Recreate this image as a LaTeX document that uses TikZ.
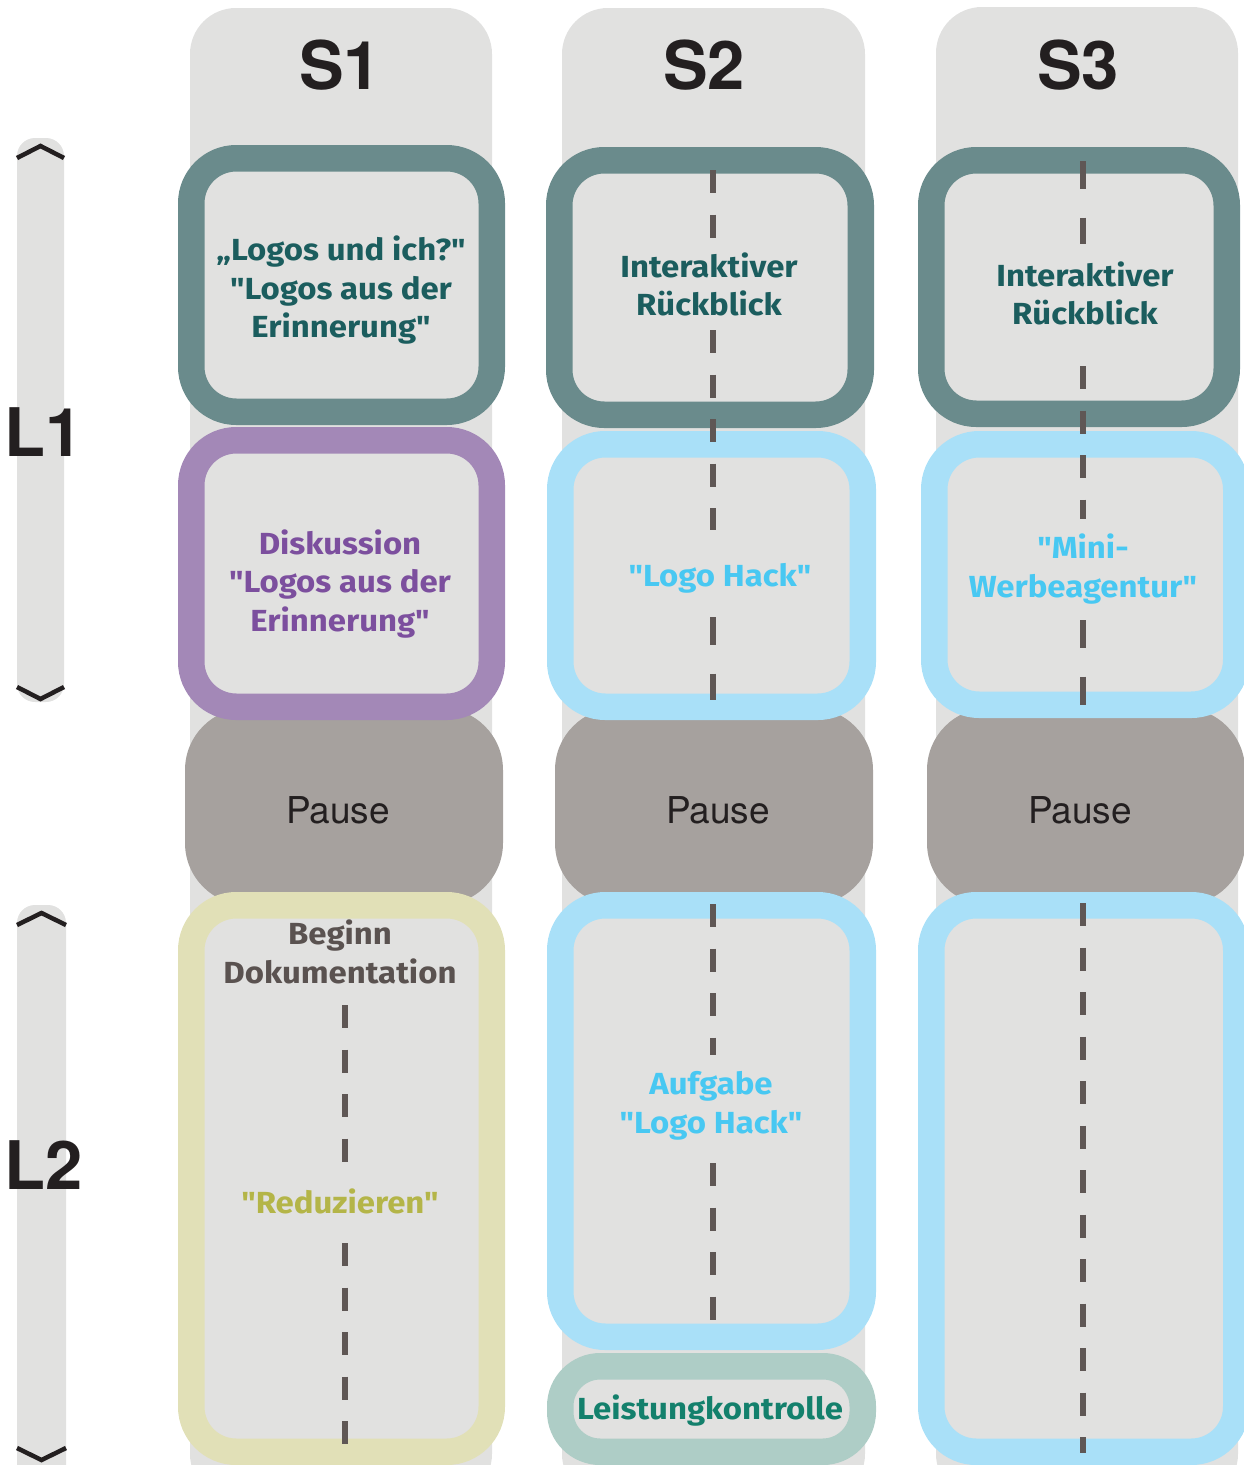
\documentclass[tikz,border=0pt]{standalone}
\usepackage{fontspec}
\setmainfont{TeX Gyre Heros}
\newfontfamily\boxfont{Fira Sans}[FakeStretch=1.08]

\definecolor{colbg}{HTML}{E1E1E0}
\definecolor{headtext}{HTML}{231F20}
\definecolor{pausegray}{HTML}{A6A19E}
\definecolor{dashgray}{HTML}{5F5755}
\definecolor{tealring}{HTML}{6A8B8C}
\definecolor{tealtext}{HTML}{1B5D5E}
\definecolor{purplering}{HTML}{A388B7}
\definecolor{purpletext}{HTML}{7C4F9E}
\definecolor{bluering}{HTML}{A9E0F8}
\definecolor{bluetext}{HTML}{48C8F2}
\definecolor{yellowring}{HTML}{E1E0B7}
\definecolor{olivetext}{HTML}{B4B548}
\definecolor{doctext}{HTML}{5A5250}
\definecolor{mintring}{HTML}{AECDC6}
\definecolor{minttext}{HTML}{13806C}

\begin{document}
\begin{tikzpicture}[
  x=1pt, y=-1pt,
  column/.style={fill=colbg, rounded corners=46pt},
  levelbar/.style={fill=colbg, rounded corners=18pt},
  caret/.style={draw=headtext, line width=4.5pt},
  ring/.style={draw=#1, fill=colbg, line width=26.5pt, rounded corners=45pt, inner sep=0pt},
  pausebox/.style={fill=pausegray, rounded corners=62pt, minimum width=318pt, minimum height=197pt},
  pausetext/.style={text=headtext, font=\fontsize{37}{44}\selectfont},
  head/.style={text=headtext, font=\bfseries\fontsize{67}{80}\selectfont},
  boxtext/.style={text=#1, align=center, inner sep=0pt, font=\boxfont\bfseries\fontsize{30.5}{38.5}\selectfont},
  dashline/.style={draw=dashgray, line width=5.5pt, dash pattern=on 23pt off 21.5pt},
  longdash/.style={draw=dashgray, line width=5.5pt, dash pattern=on 28pt off 28.5pt}
]
\useasboundingbox (0,0) rectangle (1243,1465);

% columns
\fill[column] (190,1500) rectangle (492,8);
\fill[column] (562,1500) rectangle (865,8);
\fill[column] (936,1500) rectangle (1238,7);
\node[head] (h1) at (340,65) {S1};
\node[head] (h2) at (704,65) {S2};
\node[head] (h3) at (1078,65) {S3};

% levels
\fill[levelbar] (17,138) rectangle (64,702);
\draw[caret] (17,158) -- (40.5,146) -- (64,158);
\draw[caret] (17,687) -- (40.5,699) -- (64,687);
\node[head] (l1) at (44,432) {L1};
\fill[levelbar] (17,905) rectangle (66,1500);
\draw[caret] (17,925) -- (41.5,913) -- (66,925);
\draw[caret] (17,1448) -- (41.5,1460) -- (66,1448);
\node[head] (l2) at (44,1165) {L2};

% pauses
\node[pausebox] (p1) at (344,806.5) {};
\node[pausebox] (p2) at (714,806.5) {};
\node[pausebox] (p3) at (1086,806.5) {};
\node[pausetext] (p1t) at (338,810) {Pause};
\node[pausetext] (p2t) at (718,810) {Pause};
\node[pausetext] (p3t) at (1080,810) {Pause};

% S1
\node[ring=tealring, minimum width=300.5pt, minimum height=253.5pt] (s1a) at (341.5,285) {};
\node[ring=purplering, minimum width=300.5pt, minimum height=266.5pt] (s1b) at (341.5,573.5) {};
\node[ring=yellowring, minimum width=300.5pt, minimum height=546.5pt] (s1c) at (341.5,1178.5) {};

% S2
\node[ring=tealring, minimum width=301.5pt, minimum height=254.5pt] (s2a) at (710,287.5) {};
\node[ring=bluering, minimum width=302.5pt, minimum height=262.5pt] (s2b) at (711.5,575.5) {};
\node[ring=bluering, minimum width=302.5pt, minimum height=431.5pt] (s2c) at (711.5,1121) {};
\node[ring=mintring, minimum width=302.5pt, minimum height=85.5pt, rounded corners=40pt] (s2d) at (711.5,1409) {};

% S3
\node[ring=tealring, minimum width=295.5pt, minimum height=253.5pt] (s3a) at (1079,287) {};
\node[ring=bluering, minimum width=302pt, minimum height=260.5pt] (s3b) at (1085.25,574.5) {};
\node[ring=bluering, minimum width=305pt, minimum height=546.5pt] (s3c) at (1083.75,1178.5) {};

% dashed guides
\foreach \x/\ya/\yb in {345/1005/1163, 345/1243/1448,
    713/170/238, 713/330/530, 713/904/1055, 713/1163/1335,
    1083/366/519, 1083/903/1453}
  \draw[dashline] (\x,\ya) -- (\x,\yb);
\foreach \x/\ya/\yb in {713/617/700, 1083/161/244, 1083/620/705}
  \draw[longdash] (\x,\ya) -- (\x,\yb);

% texts
\node[boxtext=tealtext] (t1a) at (341,290.5) {„Logos und ich?"\\"Logos aus der\\Erinnerung"};
\node[boxtext=purpletext] (t1b) at (340,584) {Diskussion\\"Logos aus der\\Erinnerung"};
\node[boxtext=doctext] (t1c) at (340,952) {Beginn\\Dokumentation};
\node[boxtext=olivetext] (t1d) at (340,1201) {"Reduzieren"};
\node[boxtext=tealtext] (t2a) at (709,284.5) {Interaktiver\\Rückblick};
\node[boxtext=bluetext] (t2b) at (720,578) {"Logo Hack"};
\node[boxtext=bluetext] (t2c) at (711,1106) {Aufgabe\\"Logo Hack"};
\node[boxtext=minttext] (t2d) at (710,1411) {Leistungkontrolle};
\node[boxtext=tealtext] (t3a) at (1085,293.5) {Interaktiver\\Rückblick};
\node[boxtext=bluetext] (t3b) at (1083,569) {"Mini-\\Werbeagentur"};
\end{tikzpicture}
\end{document}
